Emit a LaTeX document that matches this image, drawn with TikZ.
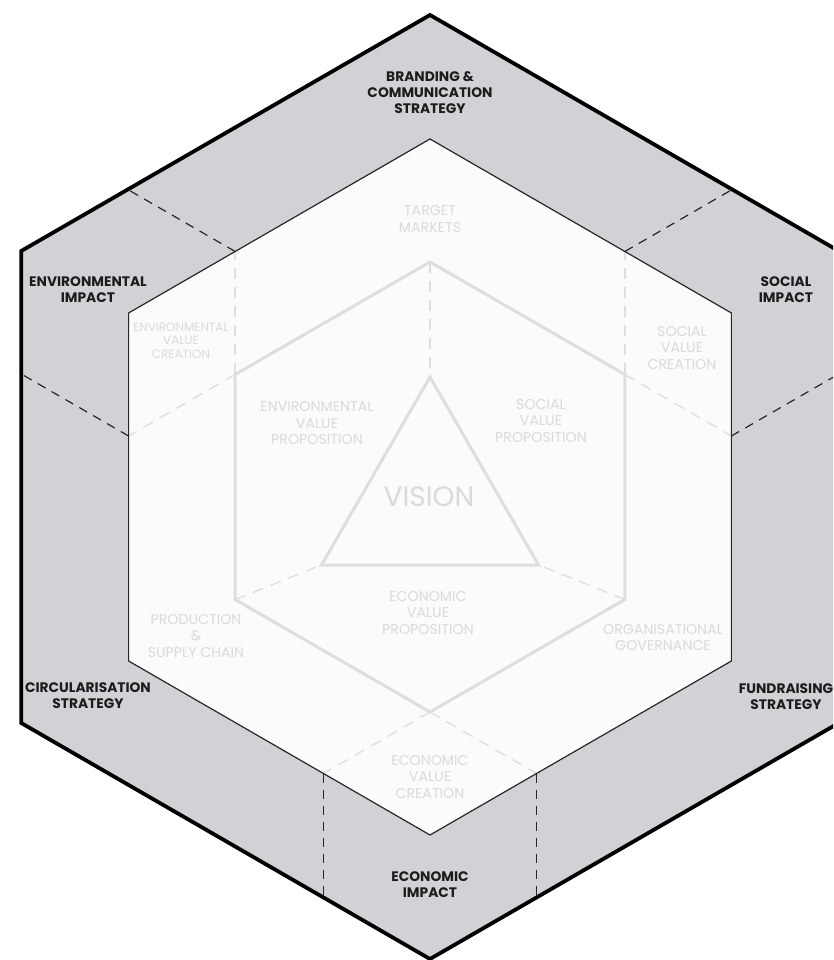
\documentclass[tikz,border=0pt]{standalone}
\usepackage{fontspec}
\setmainfont{Poppins}
\usetikzlibrary{calc}

\definecolor{ringgray}{RGB}{208,210,213}
\definecolor{paper}{RGB}{251,251,251}
\definecolor{faint}{RGB}{218,218,218}
\definecolor{faintline}{RGB}{222,222,222}
\definecolor{edge}{RGB}{38,38,38}
\definecolor{ink}{RGB}{28,28,28}

\tikzset{
  outerlbl/.style={font=\bfseries\fontsize{13.8}{16}\selectfont, text=ink, align=center, inner sep=0pt},
  innerlbl/.style={font=\fontsize{14.2}{16.5}\selectfont, text=faint, align=center, inner sep=0pt},
  smalllbl/.style={font=\fontsize{12}{13.5}\selectfont, text=faint, align=center, inner sep=0pt},
  darkdash/.style={draw=edge, line width=1.2pt, dash pattern=on 9pt off 7pt},
  lightdash/.style={draw=faintline, line width=1.3pt, dash pattern=on 11pt off 8pt},
}

\begin{document}
\begin{tikzpicture}[x=1pt,y=1pt]
  \useasboundingbox (-430,-473) rectangle (403,487);
  \clip (-430,-473) rectangle (403,487);

  % hexagon corners: outer ring, value ring, core
  \foreach \a in {30,90,...,330} {
    \coordinate (o\a) at (\a:472);
    \coordinate (m\a) at (\a:348);
    \coordinate (c\a) at (\a:225);
  }
  % vision triangle
  \coordinate (tA) at (0,110);
  \coordinate (tL) at (-108.5,-78);
  \coordinate (tR) at (108.5,-78);

  % divider points on the value ring (p) and on the outer edge (q)
  \coordinate (p150a) at ($(c150)+(90:123)$);
  \coordinate (p150b) at ($(c150)+(210:123)$);
  \coordinate (q150a) at ($(p150a)+(150:124)$);
  \coordinate (q150b) at ($(p150b)+(150:124)$);
  \coordinate (p30a) at ($(c30)+(90:123)$);
  \coordinate (p30b) at ($(c30)+(-30:123)$);
  \coordinate (q30a) at ($(p30a)+(30:124)$);
  \coordinate (q30b) at ($(p30b)+(30:124)$);
  \coordinate (p270a) at ($(c270)+(210:123)$);
  \coordinate (p270b) at ($(c270)+(330:123)$);
  \coordinate (q270a) at ($(p270a)+(270:124)$);
  \coordinate (q270b) at ($(p270b)+(270:124)$);

  % fills
  \fill[ringgray] (o90)--(o150)--(o210)--(o270)--(o330)--(o30)--cycle;
  \fill[paper] (m90)--(m150)--(m210)--(m270)--(m330)--(m30)--cycle;

  % impact dividers in the outer ring
  \foreach \p/\q in {p150a/q150a,p150b/q150b,p30a/q30a,p30b/q30b,p270a/q270a,p270b/q270b}
    \draw[darkdash] (\p) -- (\q);

  % value creation dividers
  \foreach \p/\c in {p150a/c150,p150b/c150,p30a/c30,p30b/c30,p270a/c270,p270b/c270}
    \draw[lightdash] (\c) -- (\p);
  \draw[lightdash] (c90) -- (tA);
  \draw[lightdash] (c210) -- (tL);
  \draw[lightdash] (c330) -- (tR);

  % outlines
  \draw[edge, line width=1.2pt, line join=miter]
    (m90)--(m150)--(m210)--(m270)--(m330)--(m30)--cycle;
  \draw[black, line width=3.8pt, line join=miter]
    (o90)--(o150)--(o210)--(o270)--(o330)--(o30)--cycle;
  \draw[faintline, line width=3pt, line join=miter]
    (c90)--(c150)--(c210)--(c270)--(c330)--(c30)--cycle;
  \draw[faintline, line width=3pt, line join=miter] (tA)--(tL)--(tR)--cycle;

  % outer ring labels
  \node[outerlbl] (brand) at (0,394) {BRANDING \&\\COMMUNICATION\\STRATEGY};
  \node[outerlbl] (envimp) at (-342,197.5) {ENVIRONMENTAL\\IMPACT};
  \node[outerlbl] (socimp) at (356,197.5) {SOCIAL\\IMPACT};
  \node[outerlbl] (circ) at (-342,-209) {CIRCULARISATION\\STRATEGY};
  \node[outerlbl] (fund) at (356,-209.5) {FUNDRAISING\\STRATEGY};
  \node[outerlbl] (ecoimp) at (0,-397.5) {ECONOMIC\\IMPACT};

  % value ring labels
  \node[innerlbl] (target) at (0,268) {TARGET\\MARKETS};
  \node[smalllbl] (envcre) at (-249,146.5) {ENVIRONMENTAL\\VALUE\\CREATION};
  \node[innerlbl] (soccre) at (252,139) {SOCIAL\\VALUE\\CREATION};
  \node[innerlbl] (prod) at (-234,-149) {PRODUCTION\\\&\\SUPPLY CHAIN};
  \node[innerlbl] (gov) at (233,-150.5) {ORGANISATIONAL\\GOVERNANCE};
  \node[innerlbl] (ecocre) at (0,-290) {ECONOMIC\\VALUE\\CREATION};

  % core labels
  \node[innerlbl] (envprop) at (-113,63.5) {ENVIRONMENTAL\\VALUE\\PROPOSITION};
  \node[innerlbl] (socprop) at (111,66) {SOCIAL\\VALUE\\PROPOSITION};
  \node[innerlbl] (ecoprop) at (-2,-126) {ECONOMIC\\VALUE\\PROPOSITION};
  \node[font=\fontsize{28}{32}\selectfont, text=faint, inner sep=0pt] (vision) at (-1,-10) {VISION};
\end{tikzpicture}
\end{document}
